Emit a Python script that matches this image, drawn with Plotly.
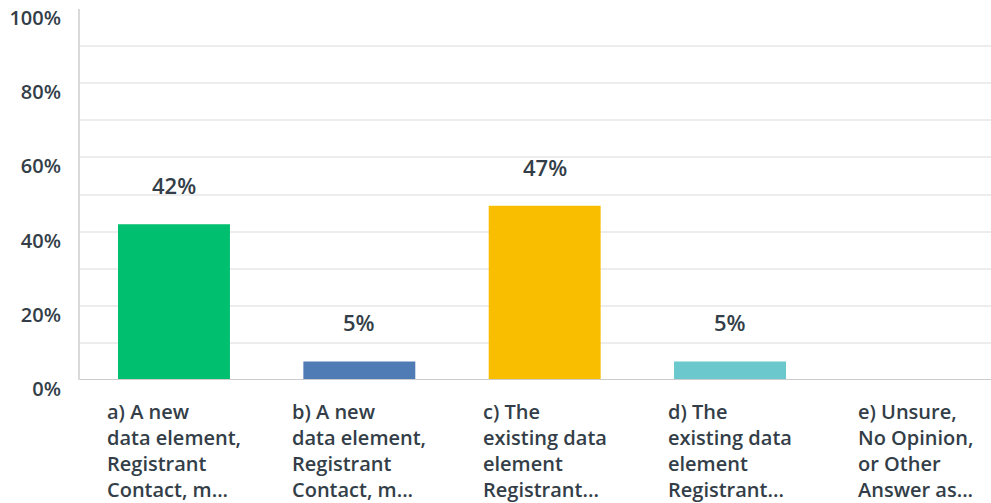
import plotly.graph_objects as go

categories = ["a", "b", "c", "d", "e"]
labels = [
    "a) A new<br>data element,<br>Registrant<br>Contact, m...",
    "b) A new<br>data element,<br>Registrant<br>Contact, m...",
    "c) The<br>existing data<br>element<br>Registrant...",
    "d) The<br>existing data<br>element<br>Registrant...",
    "e) Unsure,<br>No Opinion,<br>or Other<br>Answer as...",
]
values = [42, 5, 47, 5, 0]
colors = ["#00BF6F", "#507CB6", "#F9BE00", "#6BC8CD", "#B4D9D8"]
ytick_vals = [0, 20, 40, 60, 80, 100]
ytick_text = ["0%", "20%", "40%", "60%", "80%", "100%"]
grid_vals = [10, 20, 30, 40, 50, 60, 70, 80, 90]

FONT = "Open Sans"
TXT = "#333E48"

fig = go.Figure()
fig.add_trace(go.Bar(x=categories, y=values, marker=dict(color=colors, line=dict(width=0)),
                     hoverinfo="skip"))

annotations = []
for c, v in zip(categories, values):
    if v > 0:
        annotations.append(dict(x=c, y=v, xref="x", yref="y", text=f"{v}%",
                                showarrow=False, yanchor="bottom", yshift=22,
                                font=dict(family=FONT, size=22, color=TXT, weight=600)))
for c, t in zip(categories, labels):
    annotations.append(dict(x=c, y=0, xref="x", yref="paper", text=t, align="left",
                            showarrow=False, yanchor="top", yshift=-16,
                            font=dict(family=FONT, size=20, color=TXT, weight=600)))

fig.update_layout(
    width=991, height=503,
    margin=dict(l=80, r=0, t=9, b=123),
    paper_bgcolor="white", plot_bgcolor="white",
    showlegend=False, bargap=0.396,
    annotations=annotations,
    xaxis=dict(range=[-0.507, 4.408], showticklabels=False, showgrid=False,
               zeroline=False, showline=False, ticks="", automargin=False),
    yaxis=dict(range=[0, 100], tickvals=ytick_vals, ticktext=ytick_text,
               showgrid=False, zeroline=False, automargin=False,
               showline=True, linecolor="#DADADA", linewidth=2,
               ticks="", ticklabelstandoff=13, ticklabelshift=9,
               ticklabeloverflow="allow",
               tickfont=dict(family=FONT, size=20, color=TXT, weight=600),
               minor=dict(tickvals=grid_vals, showgrid=True, gridcolor="#EDEDED",
                          gridwidth=2, ticks="")),
    shapes=[dict(type="line", xref="paper", yref="y", x0=0, x1=1, y0=0, y1=0,
                 line=dict(color="#CCCCCC", width=2), layer="above")],
)

fig.write_html("out.html", config={"displayModeBar": False},
               post_script="document.body.style.margin='0';")
